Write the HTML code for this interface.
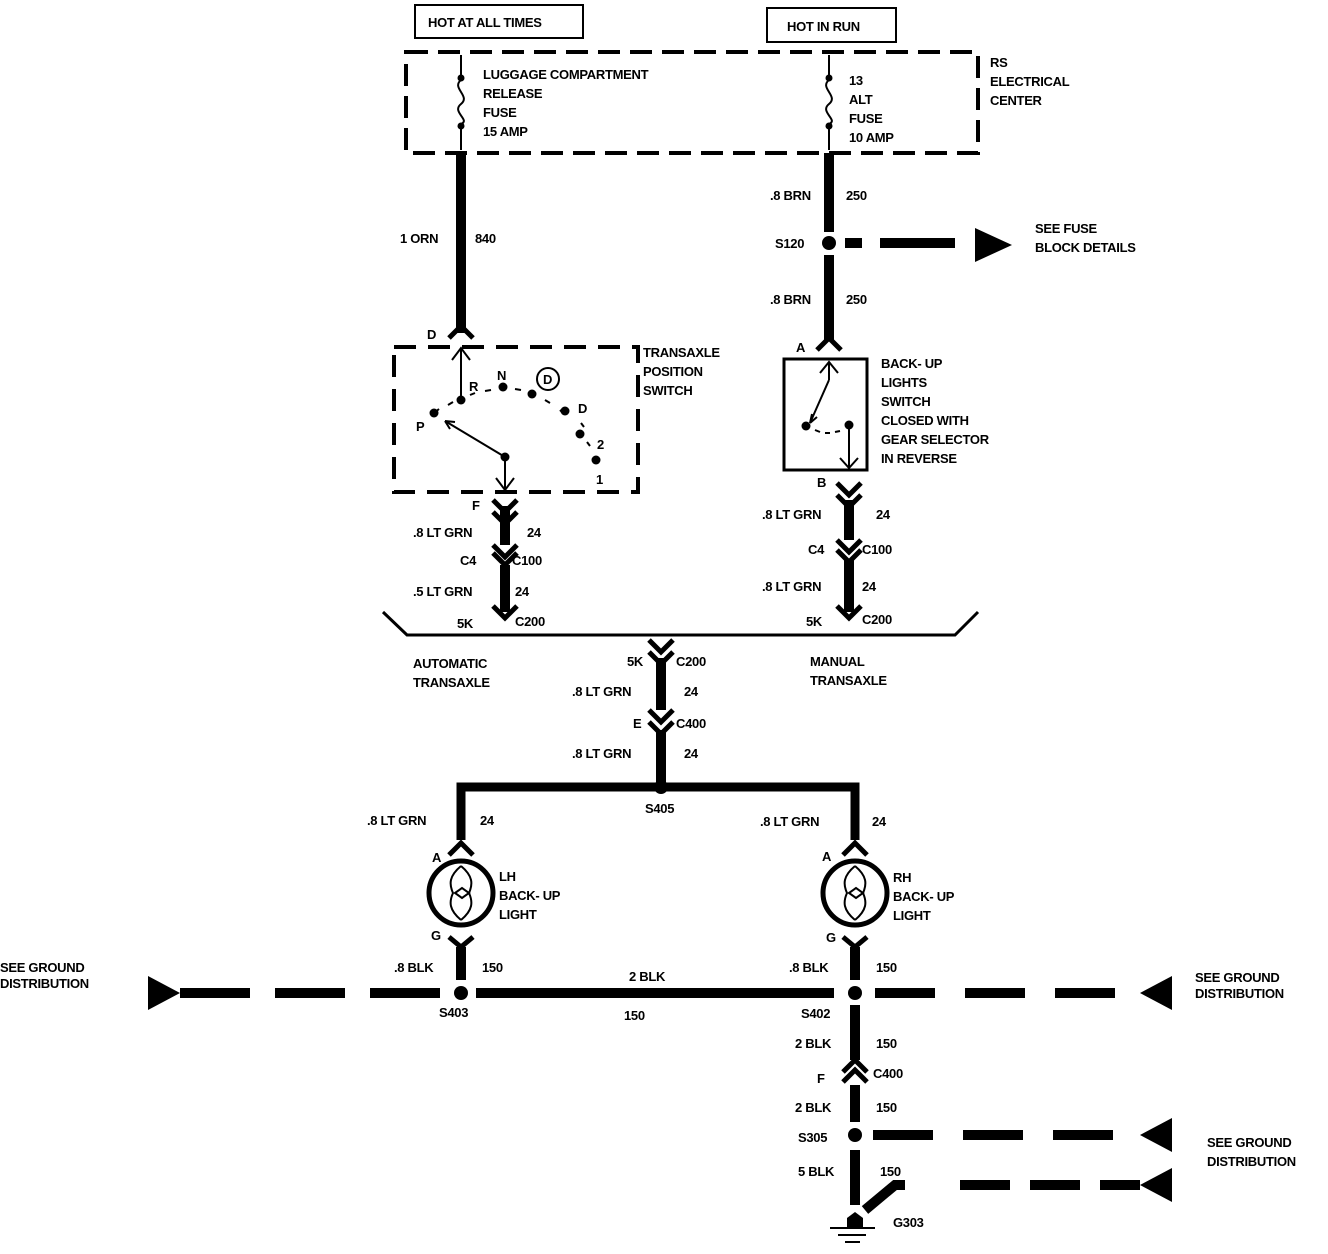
<!DOCTYPE html>
<html><head><style>body{margin:0;background:#fff}svg{display:block}text{font-family:"Liberation Sans",sans-serif;font-size:13px;font-weight:bold;fill:#000}</style></head><body>
<svg width="1328" height="1254" viewBox="0 0 1328 1254" xmlns="http://www.w3.org/2000/svg">
<g fill="none" stroke="#000">
<rect x="415" y="5" width="168" height="33" stroke-width="2"/>
<rect x="767" y="8" width="129" height="34" stroke-width="2"/>
<rect x="406" y="52" width="572" height="101" stroke-width="4" stroke-dasharray="22,10"/>
<path d="M461 55V80 M461 80c-10 8 10 16 0 24s10 16 0 20M461 124V150" stroke-width="2"/>
<path d="M829 55V80 M829 80c-10 8 10 16 0 24s10 16 0 20M829 124V150" stroke-width="2"/>
<path d="M461 153V333" stroke-width="10"/>
<path d="M829 153V232 M829 255V340" stroke-width="10"/>
<path d="M845 243H862M880 243H955" stroke-width="10"/>
<path d="M449 338L461 326L473 338M817 350L829 338L841 350" stroke-width="5"/>
<rect x="394" y="347" width="244" height="145" stroke-width="4" stroke-dasharray="22,12"/>
<path d="M461 348V400M452 360L461 348L470 360" stroke-width="2"/>
<path d="M434 413l5-4M448 405l5-3M470 395l5-2M485 391l6-1M515 389l6 1M545 400l5 3M560 410l4 4M581 423l3 4M587 442l3 4" stroke-width="2"/>
<path d="M505 457L445 421M505 457V490M496 478L505 490L514 478" stroke-width="2"/>
<path d="M445 421l10 1M445 421l5 8" stroke-width="2"/>
<circle cx="548" cy="379" r="11" stroke-width="2"/>
<path d="M493 500L505 512L517 500M493 512L505 524L517 512" stroke-width="5"/>
<path d="M505 506V545M505 565V612" stroke-width="10"/>
<path d="M493 553L505 565L517 553M493 545L505 557L517 545" stroke-width="5"/>
<path d="M493 606L505 618L517 606" stroke-width="5"/>
<rect x="784" y="359" width="83" height="111" stroke-width="3"/>
<path d="M829 362V380M820 373L829 362L838 373M829 380L810 423" stroke-width="2"/>
<path d="M810 423l2-9M810 423l7-6" stroke-width="2"/>
<path d="M815 430l5 2M825 433l5 0M835 432l5-1" stroke-width="2"/>
<path d="M849 425V468M840 458L849 468L858 458" stroke-width="2"/>
<path d="M837 483L849 495L861 483M837 495L849 507L861 495" stroke-width="5"/>
<path d="M849 500V540M849 560V612" stroke-width="10"/>
<path d="M837 540L849 552L861 540M837 550L849 562L861 550M837 606L849 618L861 606" stroke-width="5"/>
<path d="M383 612L407 635H955L978 612" stroke-width="3"/>
<path d="M649 640L661 652L673 640M649 652L661 664L673 652" stroke-width="5"/>
<path d="M661 658V710M661 730V785" stroke-width="10"/>
<path d="M649 710L661 722L673 710M649 722L661 734L673 722" stroke-width="5"/>
<path d="M461 840V787H855V840" stroke-width="9"/>
<path d="M449 855L461 843L473 855M843 855L855 843L867 855" stroke-width="5"/>
<circle cx="461" cy="893" r="32" stroke-width="5"/>
<circle cx="855" cy="893" r="32" stroke-width="5"/>
<path d="M461 866c-12 10-12 18-8 27c-4 9-4 17 8 27M461 866c12 10 12 18 8 27c4 9 4 17-8 27M455 893l7-5l7 5l-7 5z" stroke-width="2"/>
<path d="M855 866c-12 10-12 18-8 27c-4 9-4 17 8 27M855 866c12 10 12 18 8 27c4 9 4 17-8 27M849 893l7-5l7 5l-7 5z" stroke-width="2"/>
<path d="M449 937L461 947L473 937M843 937L855 947L867 937" stroke-width="5"/>
<path d="M461 947V980M855 947V980" stroke-width="10"/>
<path d="M180 993H450" stroke-width="10" stroke-dasharray="70,25"/>
<path d="M476 993H834" stroke-width="10"/>
<path d="M875 993H1140" stroke-width="10" stroke-dasharray="60,30"/>
<path d="M855 1005V1060M855 1085V1122M855 1150V1205" stroke-width="10"/>
<path d="M843 1072L855 1060L867 1072M843 1082L855 1070L867 1082" stroke-width="5"/>
<path d="M873 1135H1140" stroke-width="10" stroke-dasharray="60,30"/>
<path d="M865 1210L895 1185H905M960 1185H1010M1030 1185H1080M1100 1185H1140" stroke-width="10"/>
<path d="M830 1228H875M838 1235H866M845 1242H860" stroke-width="2"/>
</g>
<g fill="#000">
<circle cx="461" cy="78" r="3.5"/><circle cx="461" cy="126" r="3.5"/>
<circle cx="829" cy="78" r="3.5"/><circle cx="829" cy="126" r="3.5"/>
<circle cx="829" cy="243" r="7"/>
<path d="M975 228L1012 245L975 262Z"/>
<circle cx="461" cy="400" r="4.5"/><circle cx="434" cy="413" r="4.5"/><circle cx="503" cy="387" r="4.5"/>
<circle cx="532" cy="394" r="4.5"/><circle cx="565" cy="411" r="4.5"/><circle cx="580" cy="434" r="4.5"/><circle cx="596" cy="460" r="4.5"/>
<circle cx="505" cy="457" r="4.5"/>
<circle cx="806" cy="426" r="4.5"/><circle cx="849" cy="425" r="4.5"/>
<circle cx="661" cy="787" r="7"/>
<circle cx="461" cy="993" r="7"/><circle cx="855" cy="993" r="7"/><circle cx="855" cy="1135" r="7"/>
<path d="M148 976L180 993L148 1010Z"/>
<path d="M1172 976L1140 993L1172 1010Z"/>
<path d="M1172 1118L1140 1135L1172 1152Z"/>
<path d="M1172 1168L1140 1185L1172 1202Z"/>
<path d="M847 1228V1218L855 1212L863 1218V1228Z"/>
</g>
<g style="letter-spacing:-0.3px">
<text x="428" y="27">HOT AT ALL TIMES</text>
<text x="787" y="31">HOT IN RUN</text>
<text x="483" y="79">LUGGAGE COMPARTMENT</text><text x="483" y="98">RELEASE</text><text x="483" y="117">FUSE</text><text x="483" y="136">15 AMP</text>
<text x="849" y="85">13</text><text x="849" y="104">ALT</text><text x="849" y="123">FUSE</text><text x="849" y="142">10 AMP</text>
<text x="990" y="67">RS</text><text x="990" y="86">ELECTRICAL</text><text x="990" y="105">CENTER</text>
<text x="400" y="243">1 ORN</text><text x="475" y="243">840</text>
<text x="770" y="200">.8 BRN</text><text x="846" y="200">250</text>
<text x="775" y="248">S120</text>
<text x="1035" y="233">SEE FUSE</text><text x="1035" y="252">BLOCK DETAILS</text>
<text x="770" y="304">.8 BRN</text><text x="846" y="304">250</text>
<text x="427" y="339">D</text><text x="796" y="352">A</text>
<text x="643" y="357">TRANSAXLE</text><text x="643" y="376">POSITION</text><text x="643" y="395">SWITCH</text>
<text x="881" y="368">BACK- UP</text><text x="881" y="387">LIGHTS</text><text x="881" y="406">SWITCH</text><text x="881" y="425">CLOSED WITH</text><text x="881" y="444">GEAR SELECTOR</text><text x="881" y="463">IN REVERSE</text>
<text x="497" y="380">N</text><text x="543" y="384">D</text><text x="469" y="391">R</text><text x="416" y="431">P</text><text x="578" y="413">D</text><text x="597" y="449">2</text><text x="596" y="484">1</text>
<text x="472" y="510">F</text><text x="817" y="487">B</text>
<text x="413" y="537">.8 LT GRN</text><text x="527" y="537">24</text>
<text x="762" y="519">.8 LT GRN</text><text x="876" y="519">24</text>
<text x="460" y="565">C4</text><text x="512" y="565">C100</text>
<text x="808" y="554">C4</text><text x="862" y="554">C100</text>
<text x="413" y="596">.5 LT GRN</text><text x="515" y="596">24</text>
<text x="762" y="591">.8 LT GRN</text><text x="862" y="591">24</text>
<text x="457" y="628">5K</text><text x="515" y="626">C200</text>
<text x="806" y="626">5K</text><text x="862" y="624">C200</text>
<text x="413" y="668">AUTOMATIC</text><text x="413" y="687">TRANSAXLE</text>
<text x="810" y="666">MANUAL</text><text x="810" y="685">TRANSAXLE</text>
<text x="627" y="666">5K</text><text x="676" y="666">C200</text>
<text x="572" y="696">.8 LT GRN</text><text x="684" y="696">24</text>
<text x="633" y="728">E</text><text x="676" y="728">C400</text>
<text x="572" y="758">.8 LT GRN</text><text x="684" y="758">24</text>
<text x="645" y="813">S405</text>
<text x="367" y="825">.8 LT GRN</text><text x="480" y="825">24</text>
<text x="760" y="826">.8 LT GRN</text><text x="872" y="826">24</text>
<text x="432" y="862">A</text><text x="822" y="861">A</text>
<text x="499" y="881">LH</text><text x="499" y="900">BACK- UP</text><text x="499" y="919">LIGHT</text>
<text x="893" y="882">RH</text><text x="893" y="901">BACK- UP</text><text x="893" y="920">LIGHT</text>
<text x="431" y="940">G</text><text x="826" y="942">G</text>
<text x="0" y="972">SEE GROUND</text><text x="0" y="988">DISTRIBUTION</text>
<text x="394" y="972">.8 BLK</text><text x="482" y="972">150</text>
<text x="629" y="981">2 BLK</text>
<text x="789" y="972">.8 BLK</text><text x="876" y="972">150</text>
<text x="1195" y="982">SEE GROUND</text><text x="1195" y="998">DISTRIBUTION</text>
<text x="439" y="1017">S403</text><text x="624" y="1020">150</text><text x="801" y="1018">S402</text>
<text x="795" y="1048">2 BLK</text><text x="876" y="1048">150</text>
<text x="817" y="1083">F</text><text x="873" y="1078">C400</text>
<text x="795" y="1112">2 BLK</text><text x="876" y="1112">150</text>
<text x="798" y="1142">S305</text>
<text x="1207" y="1147">SEE GROUND</text><text x="1207" y="1166">DISTRIBUTION</text>
<text x="798" y="1176">5 BLK</text><text x="880" y="1176">150</text>
<text x="893" y="1227">G303</text>
</g>
</svg>
</body></html>
